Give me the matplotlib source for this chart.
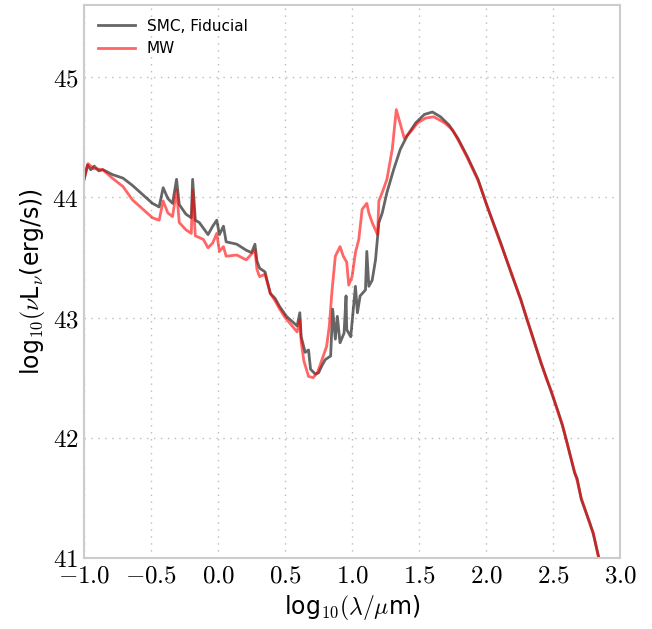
import numpy as np
import matplotlib.pyplot as plt

plt.rcParams['mathtext.fontset'] = 'cm'
plt.rcParams['font.family'] = ['DejaVu Sans']

# SMC, Fiducial (log10 lambda/um, log10 nuLnu)
smc_x = [-1.0, -0.975, -0.95, -0.925, -0.89, -0.86, -0.79, -0.71, -0.64, -0.59, -0.49,
         -0.44, -0.41, -0.375, -0.34, -0.31, -0.29, -0.24, -0.20, -0.19, -0.17, -0.14,
         -0.075, -0.04, -0.01, 0.01, 0.04, 0.06, 0.14, 0.21, 0.25, 0.275, 0.29, 0.31,
         0.35, 0.39, 0.425, 0.46, 0.51, 0.59, 0.61, 0.62, 0.65, 0.675, 0.69, 0.725, 0.75,
         0.775, 0.80, 0.84, 0.855, 0.875, 0.89, 0.91, 0.94, 0.955, 0.96, 0.99, 1.025,
         1.04, 1.06, 1.10, 1.11, 1.125, 1.15, 1.175, 1.20, 1.225, 1.26, 1.31, 1.36,
         1.41, 1.475, 1.54, 1.60, 1.66, 1.725, 1.79, 1.86, 1.94, 2.01, 2.11, 2.19,
         2.26, 2.30, 2.34, 2.41, 2.45, 2.49, 2.54, 2.57, 2.60, 2.66, 2.68, 2.71,
         2.775, 2.80, 2.84]
smc_y = [44.15, 44.27, 44.23, 44.26, 44.22, 44.23, 44.19, 44.16, 44.10, 44.05, 43.95,
         43.92, 44.08, 43.99, 43.95, 44.15, 43.94, 43.86, 43.83, 44.15, 43.81, 43.79,
         43.69, 43.76, 43.81, 43.69, 43.76, 43.63, 43.61, 43.56, 43.54, 43.61, 43.47, 43.41,
         43.38, 43.20, 43.16, 43.09, 43.01, 42.93, 43.04, 42.84, 42.71, 42.73, 42.57, 42.53, 42.54,
         42.60, 42.65, 42.68, 43.07, 42.82, 43.01, 42.79, 42.87, 43.18, 42.90, 42.84, 43.26,
         43.04, 43.18, 43.23, 43.55, 43.26, 43.31, 43.48, 43.79, 43.87, 44.04, 44.23, 44.40,
         44.51, 44.62, 44.69, 44.71, 44.67, 44.60, 44.49, 44.34, 44.15, 43.92, 43.62, 43.36,
         43.15, 43.00, 42.87, 42.62, 42.50, 42.37, 42.21, 42.10, 41.98, 41.71, 41.66, 41.49,
         41.29, 41.20, 41.01]

# MW
mw_x = [-1.0, -0.97, -0.93, -0.86, -0.79, -0.71, -0.64, -0.56, -0.49, -0.44, -0.41,
        -0.375, -0.34, -0.31, -0.29, -0.24, -0.20, -0.19, -0.17, -0.11, -0.075, -0.04,
        -0.01, 0.01, 0.04, 0.06, 0.14, 0.21, 0.275, 0.29, 0.31, 0.35, 0.39, 0.425, 0.46,
        0.50, 0.59, 0.61, 0.62, 0.64, 0.675, 0.71, 0.74, 0.76, 0.81, 0.83, 0.85, 0.875, 0.91,
        0.935, 0.96, 0.975, 1.0, 1.025, 1.05, 1.075, 1.11, 1.125, 1.15, 1.19, 1.20,
        1.225, 1.26, 1.30, 1.33, 1.39, 1.44, 1.49, 1.55, 1.61, 1.69, 1.75, 1.79, 1.86,
        1.94, 2.01, 2.11, 2.19, 2.26, 2.30, 2.34, 2.41, 2.45, 2.49, 2.54, 2.57, 2.60,
        2.66, 2.68, 2.71, 2.775, 2.80, 2.84]
mw_y = [44.15, 44.28, 44.24, 44.23, 44.16, 44.09, 43.98, 43.90, 43.83, 43.81, 43.97,
        43.87, 43.84, 44.06, 43.79, 43.73, 43.70, 44.06, 43.68, 43.65, 43.58, 43.62,
        43.70, 43.55, 43.59, 43.51, 43.52, 43.48, 43.56, 43.40, 43.34, 43.36, 43.20, 43.14, 43.07,
        43.00, 42.88, 42.98, 42.80, 42.64, 42.51, 42.50, 42.54, 42.60, 42.76, 42.93, 43.22, 43.51, 43.59,
        43.51, 43.46, 43.27, 43.34, 43.54, 43.65, 43.90, 43.95, 43.87, 43.79, 43.69, 43.97,
        44.04, 44.15, 44.40, 44.73, 44.49, 44.55, 44.62, 44.66, 44.67, 44.62, 44.56, 44.48, 44.33,
        44.14, 43.92, 43.61, 43.37, 43.14, 43.01, 42.86, 42.63, 42.49, 42.38, 42.20, 42.11, 41.97,
        41.72, 41.64, 41.50, 41.28, 41.21, 41.00]

fig = plt.figure(figsize=(6.52, 6.29), dpi=100)
ax = fig.add_axes([0.129, 0.113, 0.822, 0.879])

ax.plot(smc_x, smc_y, color='k', alpha=0.6, lw=2, label='SMC, Fiducial')
ax.plot(mw_x, mw_y, color='r', alpha=0.6, lw=2, label='MW')

ax.set_xlim(-1.0, 3.0)
ax.set_ylim(41, 45.6)
xt = [-1.0, -0.5, 0.0, 0.5, 1.0, 1.5, 2.0, 2.5, 3.0]
yt = [41, 42, 43, 44, 45]
ax.set_xticks(xt)
ax.set_xticklabels([r'$%.1f$' % v for v in xt])
ax.set_yticks(yt)
ax.set_yticklabels([r'$%d$' % v for v in yt])
ax.tick_params(length=0, labelsize=18, pad=4)

ax.grid(True, color='#bbbbbb', linestyle=(0, (1, 4)), linewidth=1)
for s in ax.spines.values():
    s.set_color('#cccccc')
    s.set_linewidth(1.5)

ax.set_xlabel(r'log$_{10}(\lambda/\mu$m)', fontsize=17)
ax.set_ylabel(r'log$_{10}(\nu$L$_\nu$(erg/s))', fontsize=17)
ax.legend(loc='upper left', frameon=False, fontsize=11, handlelength=2.4)

fig.savefig('out.png', dpi=100)
